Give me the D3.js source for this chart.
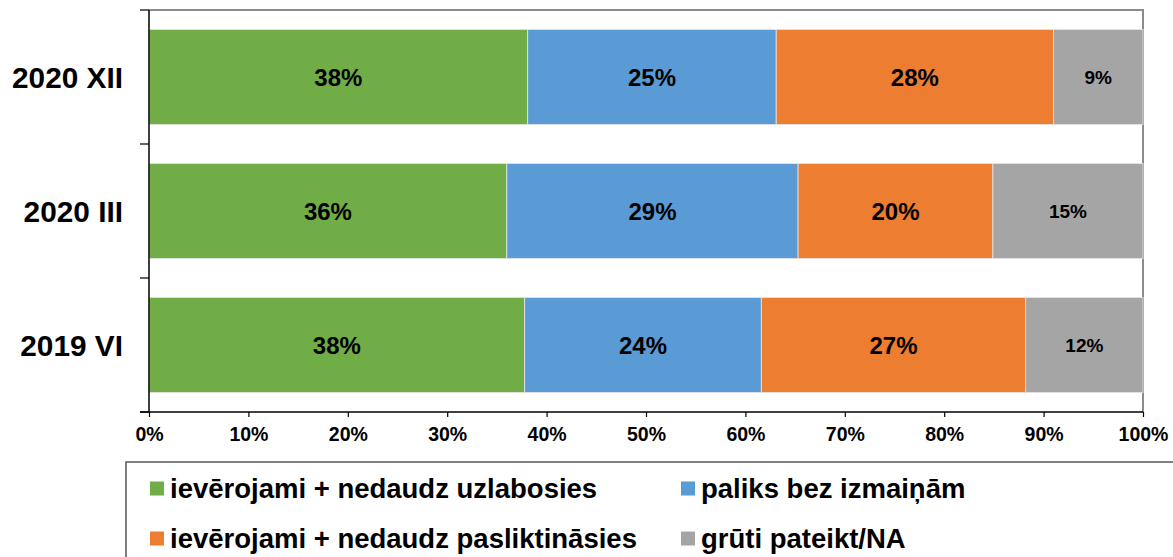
<!DOCTYPE html>
<html>
<head>
<meta charset="utf-8">
<script src="https://cdn.jsdelivr.net/npm/d3@7"></script>
<style>
  body { margin: 0; background: #fff; }
  svg { display: block; font-family: "Liberation Sans", Arial, sans-serif; font-weight: bold; }
</style>
</head>
<body>
<div id="chart"></div>
<script>
// Survey waves, top to bottom
var periods = ["2020 XII", "2020 III", "2019 VI"];

// Answer categories (legend order)
var answers = ["ievērojami + nedaudz uzlabosies", "paliks bez izmaiņām",
	       "ievērojami + nedaudz pasliktināsies", "grūti pateikt/NA"];
var colors = ["#70ad47", "#5b9bd5", "#ed7d31", "#a5a5a5"];

// Shares per period, in % (same order as answers)
var improve = [38.1, 36.0, 37.8];
var same    = [25.0, 29.3, 23.8];
var worse   = [27.9, 19.6, 26.6];
var unsure  = [9.0, 15.1, 11.8];

// Rounded labels printed in the bars
var improveLbl = ["38%", "36%", "38%"];
var sameLbl    = ["25%", "29%", "24%"];
var worseLbl   = ["28%", "20%", "27%"];
var unsureLbl  = ["9%", "15%", "12%"];

var xTicks = [0, 10, 20, 30, 40, 50, 60, 70, 80, 90, 100];

var width = 1173, height = 557;
// plot box ("top" is taken by window.top, so prefix them)
var pLeft = 149, pRight = 1143, pTop = 10, pBottom = 412;

var series = [improve, same, worse, unsure];
var labels = [improveLbl, sameLbl, worseLbl, unsureLbl];

var x = d3.scaleLinear().domain([0, 100]).range([pLeft, pRight]);
var y = d3.scaleBand().domain(periods).range([pTop, pBottom])
    .paddingInner(0.29).paddingOuter(0.145);

var svg = d3.select("#chart").append("svg")
    .attr("width", width)
    .attr("height", height);

// Build stacked segments
var segs = [];
periods.forEach(function(p, i) {
    var acc = 0;
    series.forEach(function(s, k) {
	segs.push({period: p, k: k, x0: acc, x1: acc + s[i], label: labels[k][i]});
	acc += s[i];
    });
});

// Plot frame (gray top/right)
svg.append("path")
    .attr("d", "M" + pLeft + "," + pTop + "H" + pRight + "V" + pBottom)
    .attr("fill", "none")
    .attr("stroke", "#8c8c8c")
    .attr("stroke-width", 2);

svg.append("g").selectAll("rect")
    .data(segs)
  .enter().append("rect")
    .attr("x", function(d) { return x(d.x0); })
    .attr("y", function(d) { return y(d.period); })
    .attr("width", function(d) { return x(d.x1) - x(d.x0); })
    .attr("height", y.bandwidth())
    .attr("fill", function(d) { return colors[d.k]; })
    .attr("stroke", "#e6e6e6")
    .attr("stroke-width", 0.8);

svg.append("g").selectAll("text")
    .data(segs)
  .enter().append("text")
    .attr("x", function(d) { return (x(d.x0) + x(d.x1)) / 2; })
    .attr("y", function(d) { return y(d.period) + y.bandwidth() / 2; })
    .attr("dy", "0.36em")
    .attr("text-anchor", "middle")
    .attr("font-size", function(d) { return d.k == 3 ? "19px" : "24px"; })
    .attr("fill", "#000")
    .text(function(d) { return d.label; });

// Left axis: ticks between categories
var yAxis = svg.append("g");
yAxis.append("line")
    .attr("x1", pLeft).attr("x2", pLeft)
    .attr("y1", pTop).attr("y2", pBottom)
    .attr("stroke", "#000").attr("stroke-width", 1.5);
yAxis.selectAll("line.tk")
    .data(d3.range(periods.length + 1))
  .enter().append("line")
    .classed("tk", true)
    .attr("x1", pLeft - 9).attr("x2", pLeft)
    .attr("y1", function(i) { return pTop + i * y.step(); })
    .attr("y2", function(i) { return pTop + i * y.step(); })
    .attr("stroke", "#000").attr("stroke-width", 1.2);
yAxis.selectAll("text")
    .data(periods)
  .enter().append("text")
    .attr("x", 123)
    .attr("y", function(d) { return y(d) + y.bandwidth() / 2; })
    .attr("dy", "0.36em")
    .attr("text-anchor", "end")
    .attr("font-size", "29.8px")
    .text(function(d) { return d; });

// Bottom axis
var xAxis = d3.axisBottom(x)
    .tickValues(xTicks)
    .tickSize(5)
    .tickPadding(10)
    .tickFormat(function(d) { return d + "%"; });
var gx = svg.append("g")
    .attr("transform", "translate(0," + pBottom + ")")
    .call(xAxis);
gx.select(".domain").attr("stroke", "#000").attr("stroke-width", 1.5)
    .attr("d", "M" + (pLeft - 9) + ",0H" + pRight);
gx.selectAll(".tick line").attr("stroke", "#000").attr("stroke-width", 1.2);
gx.selectAll(".tick text")
    .attr("font-size", "19.5px")
    .attr("font-family", "Liberation Sans, Arial, sans-serif")
    .attr("font-weight", "bold")
    .attr("fill", "#000");

// Legend
svg.append("rect")
    .attr("x", 126).attr("y", 462)
    .attr("width", 1100).attr("height", 120)
    .attr("fill", "#fff")
    .attr("stroke", "#555")
    .attr("stroke-width", 1.5);

var legPos = [[150, 488], [681, 488], [150, 538], [681, 538]];
var leg = svg.append("g").selectAll("g")
    .data(answers)
  .enter().append("g")
    .attr("transform", function(d, i) {
	return "translate(" + legPos[i][0] + "," + legPos[i][1] + ")";
    });
leg.append("rect")
    .attr("x", 0).attr("y", -6.5)
    .attr("width", 14).attr("height", 14)
    .attr("fill", function(d, i) { return colors[i]; });
leg.append("text")
    .attr("x", 20)
    .attr("dy", "0.36em")
    .attr("font-size", "27.5px")
    .text(function(d) { return d; });
</script>
</body>
</html>
